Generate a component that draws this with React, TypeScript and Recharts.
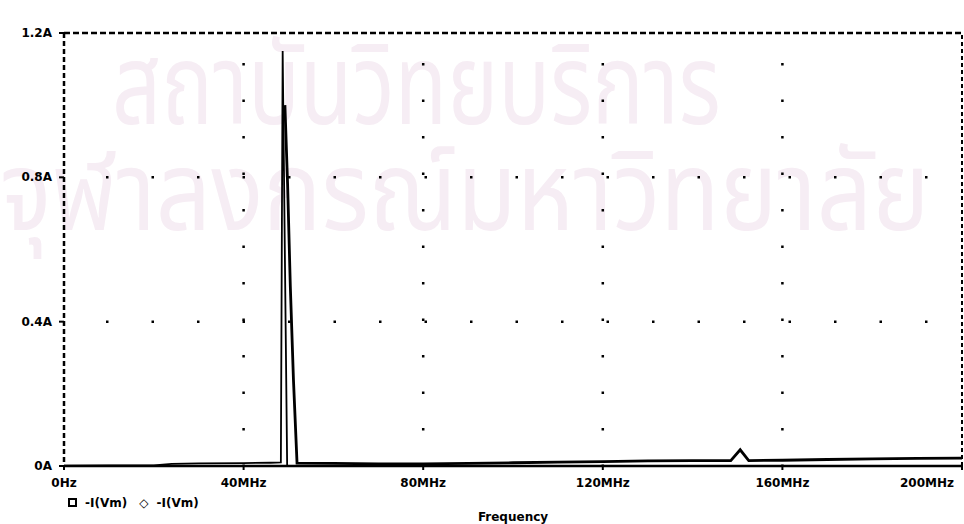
import { LineChart, Line, XAxis, YAxis, CartesianGrid, ReferenceLine } from 'recharts'

// trace 1: 0 .. ~50 MHz, sharp resonance near 48.8 MHz
const freqA = [0, 10, 20, 24, 30, 40, 46, 48.3, 48.7, 49.7]
const currA = [0.001, 0.002, 0.002, 0.006, 0.007, 0.008, 0.009, 0.01, 1.15, 0.003]

// trace 2: falling edge after the peak, then near-zero up to 200 MHz
const freqB = [49.2, 49.8, 50.4, 51.1, 51.9, 60, 70, 80, 90, 100, 110, 120, 130, 140, 148.5, 150.6, 152.5, 160, 170, 180, 190, 200]
const currB = [1.0, 0.78, 0.5, 0.24, 0.008, 0.007, 0.006, 0.006, 0.007, 0.009, 0.011, 0.012, 0.014, 0.015, 0.015, 0.045, 0.015, 0.016, 0.018, 0.02, 0.021, 0.022]

const xTicks = [0, 40, 80, 120, 160, 200]
const xTickLabels = ['0Hz', '40MHz', '80MHz', '120MHz', '160MHz', '200MHz']
const yTicks = [0, 0.4, 0.8, 1.2]
const yTickLabels = ['0A', '0.4A', '0.8A', '1.2A']

const seriesA = freqA.map((f, i) => ({ f, v: currA[i] }))
const seriesB = freqB.map((f, i) => ({ f, v: currB[i] }))

const font = '"DejaVu Sans", sans-serif'

function XTick(props: any) {
  const { x, y, payload } = props
  const i = xTicks.indexOf(payload.value)
  const anchor = payload.value === 200 ? 'end' : 'middle'
  return (
    <text x={payload.value === 200 ? x + 2 : x} y={y + 15} textAnchor={anchor} fontFamily={font} fontWeight="bold" fontSize={12} fill="#000">
      {xTickLabels[i]}
    </text>
  )
}

function YTick(props: any) {
  const { x, y, payload } = props
  const i = yTicks.indexOf(payload.value)
  return (
    <text x={x} y={y + 4} textAnchor="end" fontFamily={font} fontWeight="bold" fontSize={12} fill="#000">
      {yTickLabels[i]}
    </text>
  )
}

export default function App() {
  return (
    <div style={{ position: 'absolute', left: 0, top: 0, width: 964, height: 524, background: '#fff', overflow: 'hidden' }}>
      {/* faint scan watermark behind the plot */}
      <div
        style={{
          position: 'absolute',
          left: 0,
          top: 0,
          width: 964,
          height: 524,
          color: '#f6edf4',
          fontFamily: '"Noto Sans Thai", "Noto Sans", sans-serif',
          pointerEvents: 'none',
        }}
      >
        <div style={{ position: 'absolute', left: 112, top: 6, fontSize: 86, whiteSpace: 'nowrap', transform: 'scaleY(1.3)', transformOrigin: '0 0' }}>
          สถาบันวิทยบริการ
        </div>
        <div style={{ position: 'absolute', left: 0, top: 112, fontSize: 97, whiteSpace: 'nowrap', transform: 'scaleY(1.15)', transformOrigin: '0 0' }}>
          จุฬาลงกรณ์มหาวิทยาลัย
        </div>
      </div>
      <LineChart width={964} height={524} margin={{ top: 33, right: 2, bottom: 0, left: 0 }} style={{ position: 'absolute', left: 0, top: 0 }}>
        <CartesianGrid
          horizontal={false}
          stroke="#000"
          strokeWidth={2.5}
          strokeDasharray="2.5 34"
          strokeDashoffset={-30}
          verticalValues={[40, 80, 120, 160]}
        />
        <CartesianGrid
          vertical={false}
          stroke="#000"
          strokeWidth={2.5}
          strokeDasharray="2.5 43"
          strokeDashoffset={-42}
          horizontalValues={[0.4, 0.8]}
        />
        <XAxis
          dataKey="f"
          type="number"
          domain={[0, 200]}
          ticks={xTicks}
          height={58}
          tick={<XTick />}
          tickSize={4}
          tickLine={{ stroke: '#000', strokeWidth: 2 }}
          axisLine={{ stroke: '#000', strokeWidth: 2.5 }}
          allowDuplicatedCategory={false}
          label={{ value: 'Frequency', position: 'insideBottom', offset: 3, fontFamily: font, fontWeight: 'bold', fontSize: 12, fill: '#000' }}
        />
        <YAxis
          type="number"
          domain={[0, 1.2]}
          ticks={yTicks}
          width={64}
          tick={<YTick />}
          tickSize={5}
          tickMargin={7}
          tickLine={{ stroke: '#000', strokeWidth: 2 }}
          axisLine={{ stroke: '#000', strokeWidth: 2.5, strokeDasharray: '5 3' }}
        />
        <ReferenceLine y={1.2} stroke="#000" strokeWidth={2.5} strokeDasharray="6 3" />
        <ReferenceLine x={200} stroke="#000" strokeWidth={2} strokeDasharray="4 3" />
        <Line data={seriesA} dataKey="v" type="linear" stroke="#000" strokeWidth={1.8} dot={false} isAnimationActive={false} />
        <Line data={seriesB} dataKey="v" type="linear" stroke="#000" strokeWidth={2.8} dot={false} isAnimationActive={false} />
      </LineChart>
      <div
        style={{
          position: 'absolute',
          left: 68,
          top: 496,
          fontFamily: font,
          fontWeight: 'bold',
          fontSize: 12,
          whiteSpace: 'nowrap',
          color: '#000',
        }}
      >
        <span style={{ display: 'inline-block', width: 5, height: 5, border: '2px solid #000', marginRight: 8 }} />
        -I(Vm)
        <span style={{ display: 'inline-block', marginLeft: 12, marginRight: 8 }}>◇</span>
        -I(Vm)
      </div>
    </div>
  )
}
